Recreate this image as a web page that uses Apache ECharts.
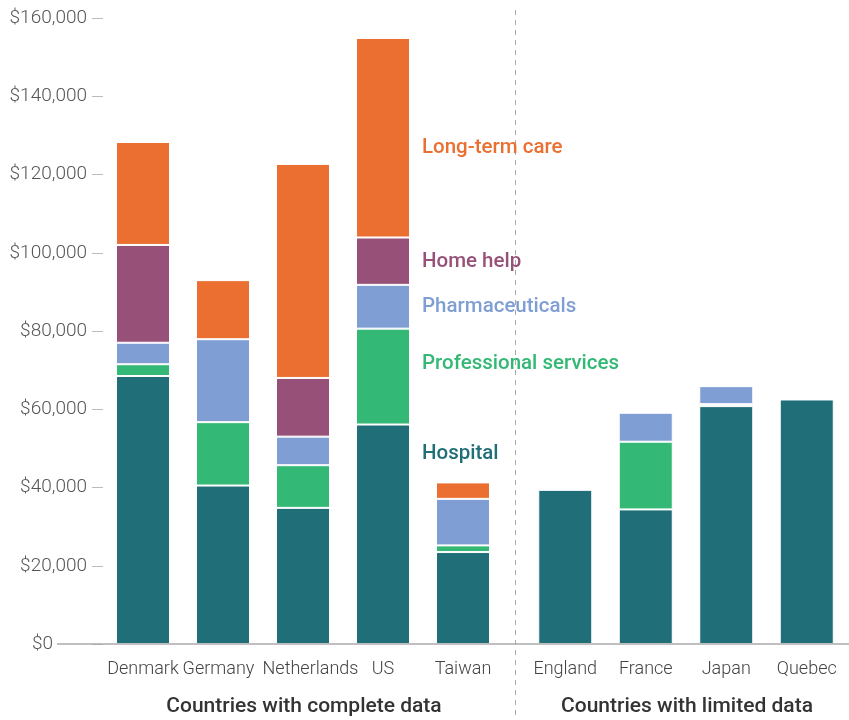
<!DOCTYPE html>
<html>
<head>
<meta charset="utf-8">
<script src="https://cdn.jsdelivr.net/npm/echarts@6/dist/echarts.min.js"></script>
<style>html,body{margin:0;padding:0;background:#fff;}#chart{width:849px;height:720px;}</style>
</head>
<body>
<div id="chart"></div>
<script>
const completeCountries = ['Denmark', 'Germany', 'Netherlands', 'US', 'Taiwan'];
const limitedCountries = ['England', 'France', 'Japan', 'Quebec'];
const groupTitles = ['Countries with complete data', 'Countries with limited data'];
// values for Denmark, Germany, Netherlands, US, Taiwan, England, France, Japan, Quebec
const hospital =      [68500, 40500, 34800, 56100, 23500, 39400, 34400, 60800, 62500];
const professional =  [3000, 16200, 10900, 24500, 1700, null, 17300, 500, null];
const pharmaceuticals = [5500, 21200, 7300, 11200, 11900, null, 7400, 4600, null];
const homeHelp =      [25000, null, 15000, 12100, null, null, null, null, null];
const longTermCare =  [26300, 15100, 54700, 51000, 4200, null, null, null, null];
const seriesNames = ['Hospital', 'Professional services', 'Pharmaceuticals', 'Home help', 'Long-term care'];
const seriesColors = ['#1F6E78', '#33B875', '#7F9FD4', '#975078', '#EB6F30'];
const seriesData = [hospital, professional, pharmaceuticals, homeHelp, longTermCare];

const FONT = 'Roboto';
const chart = echarts.init(document.getElementById('chart'));

const series = [];
seriesNames.forEach((name, i) => {
  series.push({
    name: name, type: 'bar', stack: 'complete', xAxisIndex: 0, yAxisIndex: 0,
    barWidth: 54, data: seriesData[i].slice(0, 5),
    itemStyle: { color: seriesColors[i], borderColor: '#fff', borderWidth: 1 },
    emphasis: { disabled: true }
  });
  series.push({
    name: name, type: 'bar', stack: 'limited', xAxisIndex: 1, yAxisIndex: 1,
    barWidth: 54, data: seriesData[i].slice(5),
    itemStyle: { color: seriesColors[i], borderColor: '#fff', borderWidth: 1 },
    emphasis: { disabled: true }
  });
});

const labelStyle = { color: '#444', fontFamily: FONT, fontSize: 18, fontWeight: 300 };
const catLabel = {
  color: '#444', fontFamily: FONT, fontSize: 18, fontWeight: 300, margin: 16, interval: 0,
  formatter: v => v === 'Germany' ? '{l|' + v + '}' : v === 'Netherlands' ? '{r|' + v + '}' : v,
  rich: {
    l: Object.assign({ padding: [0, 9, 0, 0] }, labelStyle),
    r: Object.assign({ padding: [0, 0, 0, 15] }, labelStyle)
  }
};
const yCommon = {
  type: 'value', min: 0, max: 160000, interval: 20000,
  splitLine: { show: false }, axisLine: { show: false }
};

// annotation labels placed next to the US bar
const annot = [
  { text: 'Long-term care', y: 148, color: seriesColors[4] },
  { text: 'Home help', y: 262, color: seriesColors[3] },
  { text: 'Pharmaceuticals', y: 307, color: seriesColors[2] },
  { text: 'Professional services', y: 364, color: seriesColors[1] },
  { text: 'Hospital', y: 454, color: seriesColors[0] }
];

chart.setOption({
  animation: false,
  grid: [
    { left: 103, top: 18, width: 400, bottom: 76 },
    { left: 525, top: 18, width: 322, bottom: 76 }
  ],
  xAxis: [
    { type: 'category', gridIndex: 0, data: completeCountries, axisTick: { show: false },
      axisLine: { show: false }, axisLabel: catLabel },
    { type: 'category', gridIndex: 1, data: limitedCountries, axisTick: { show: false },
      axisLine: { show: false }, axisLabel: catLabel }
  ],
  yAxis: [
    Object.assign({}, yCommon, { gridIndex: 0,
      axisTick: { show: true, length: 11, inside: false, lineStyle: { color: '#bbb', width: 1 } },
      axisLabel: { color: '#555', fontFamily: FONT, fontSize: 19, fontWeight: 300, margin: 16,
        formatter: v => v === 0 ? '{z|$0}' : '$' + v.toLocaleString('en-US'),
        rich: { z: { color: '#555', fontFamily: FONT, fontSize: 19, fontWeight: 300, padding: [0, 34, 0, 0] } } } }),
    Object.assign({}, yCommon, { gridIndex: 1, axisTick: { show: false }, axisLabel: { show: false } })
  ],
  series: series,
  graphic: [
    { type: 'line', shape: { x1: 57, y1: 644, x2: 849, y2: 644 }, style: { stroke: '#aaa', lineWidth: 1.5 }, z: 10 },
    { type: 'line', shape: { x1: 515.5, y1: 10, x2: 515.5, y2: 720 }, style: { stroke: '#aaa', lineWidth: 1, lineDash: [5, 5] } },
    { type: 'text', x: 304, y: 707, style: { text: groupTitles[0], fill: '#333', font: '500 21px ' + FONT, textAlign: 'center', textVerticalAlign: 'middle' } },
    { type: 'text', x: 687, y: 707, style: { text: groupTitles[1], fill: '#333', font: '500 21px ' + FONT, textAlign: 'center', textVerticalAlign: 'middle' } }
  ].concat(annot.map(a => ({
    type: 'text', x: 422, y: a.y, style: { text: a.text, fill: a.color, font: '500 20.5px ' + FONT, textVerticalAlign: 'middle' }
  })))
});
</script>
</body>
</html>
